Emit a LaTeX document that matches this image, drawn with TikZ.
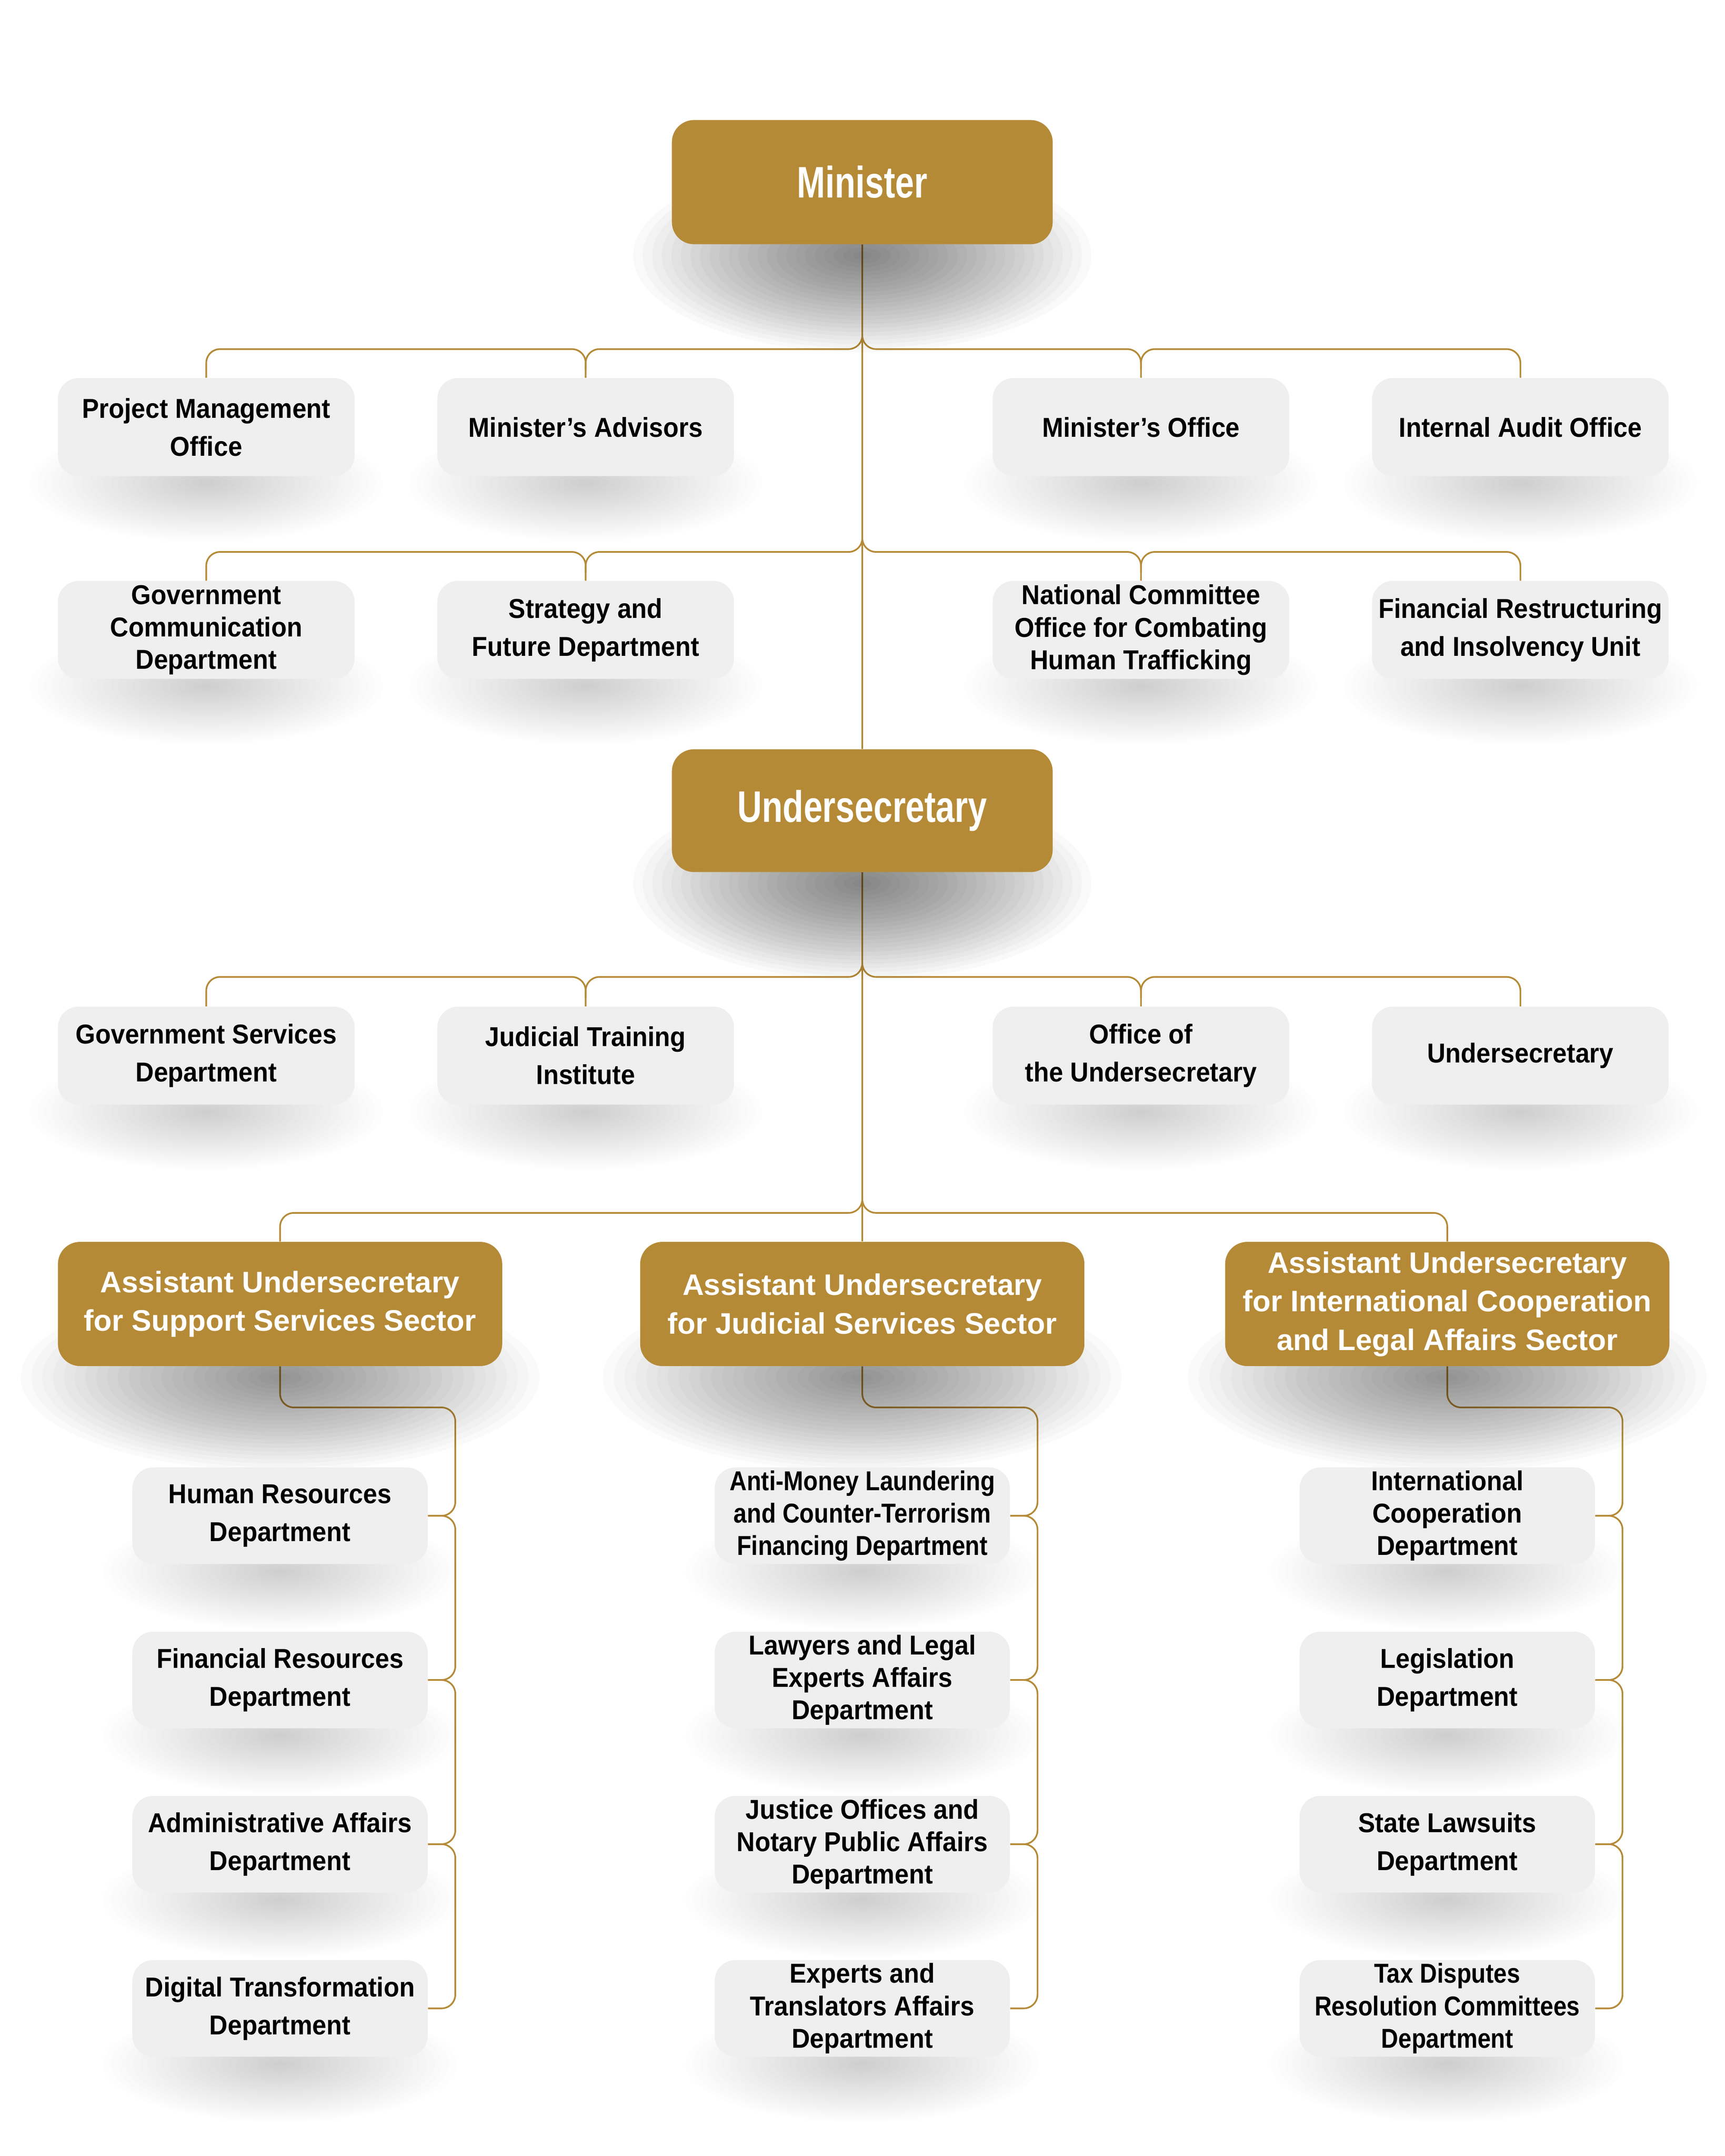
\documentclass[tikz,border=0pt]{standalone}
\usepackage{fontspec}
\setmainfont{Liberation Sans}
\newfontfamily\boxfont[FakeStretch=0.93]{Liberation Sans}
\newfontfamily\narrowfont[FakeStretch=0.87]{Liberation Sans}
\newfontfamily\goldfont[FakeStretch=0.77]{Liberation Sans}
\newfontfamily\secfont{Liberation Sans}
\usetikzlibrary{calc}
\definecolor{gold}{HTML}{B58A37}
\definecolor{boxgray}{HTML}{EFEFEF}
\pgfdeclarelayer{bg}
\pgfdeclarelayer{lines}
\pgfdeclarelayer{shadows}
\pgfsetlayers{bg,lines,shadows,main}
% soft shadow: stacked translucent ellipses centred just below the box
\newcommand\dropsh[5]{%
  \foreach \i in {1,...,24}{%
    \fill[black,opacity=#4] ($(#1.south)+(0,#5)$) ellipse [x radius={#2*\i/24}, y radius={#3*\i/24}];
  }}
\tikzset{
  gbox/.style={fill=gold, rounded corners=16pt, text=white, align=center, inner sep=0pt},
  topgold/.style={gbox, minimum width=276pt, minimum height=90pt, font=\goldfont\bfseries\fontsize{32}{36}\selectfont},
  secbox/.style={gbox, minimum width=322pt, minimum height=90pt, font=\secfont\bfseries\fontsize{21.5}{28}\selectfont},
  lbox/.style={fill=boxgray, rounded corners=15pt, text=black, align=center, inner sep=0pt, minimum width=215pt, minimum height=71pt, font=\boxfont\bfseries\fontsize{19.8}{27.5}\selectfont},
  sbox/.style={lbox, minimum width=214pt, minimum height=70pt},
  three/.style={font=\boxfont\bfseries\fontsize{19.8}{23.5}\selectfont},
  threen/.style={font=\narrowfont\bfseries\fontsize{19.8}{23.5}\selectfont},
  conn/.style={draw=gold, line width=1.2pt, rounded corners=10pt}
}
\begin{document}
\begin{tikzpicture}[x=1pt, y=-1pt]
\useasboundingbox (0,0) rectangle (1250,1562.5);
\begin{pgfonlayer}{bg}
\fill[white] (0,0) rectangle (1250,1562.5);
\end{pgfonlayer}

% gold nodes
\node[topgold] (min) at (625,132) {Minister};
\node[topgold, minimum height=89pt] (und) at (625,587.5) {Undersecretary};

% row 1
\node[lbox] (pmo) at (149.5,309.5) {Project Management\\Office};
\node[lbox] (adv) at (424.5,309.5) {Minister’s Advisors};
\node[lbox] (mo)  at (827,309.5) {Minister’s Office};
\node[lbox] (iao) at (1102,309.5) {Internal Audit Office};
% row 2
\node[lbox, three] (gcd) at (149.5,456.5) {Government\\Communication\\Department};
\node[lbox] (sfd) at (424.5,456.5) {Strategy and\\Future Department};
\node[lbox, three] (nch) at (827,456.5) {National Committee\\Office for Combating\\Human Trafficking};
\node[lbox] (fru) at (1102,456.5) {Financial Restructuring\\and Insolvency Unit};
% row 3
\node[lbox] (gsd) at (149.5,765) {Government Services\\Department};
\node[lbox] (jti) at (424.5,765) {Judicial Training\\Institute};
\node[lbox] (otu) at (827,765) {Office of\\the Undersecretary};
\node[lbox] (uds) at (1102,765) {Undersecretary};

% sectors
\node[secbox] (s1) at (203,945) {Assistant Undersecretary\\for Support Services Sector};
\node[secbox] (s2) at (625,945) {Assistant Undersecretary\\for Judicial Services Sector};
\node[secbox] (s3) at (1049,945) {Assistant Undersecretary\\for International Cooperation\\and Legal Affairs Sector};

% left column
\node[sbox] (a1) at (203,1098.5) {Human Resources\\Department};
\node[sbox] (b1) at (203,1217.5) {Financial Resources\\Department};
\node[sbox] (c1) at (203,1336.5) {Administrative Affairs\\Department};
\node[sbox] (d1) at (203,1455.5) {Digital Transformation\\Department};
% middle column
\node[sbox, threen] (a2) at (625,1098.5) {Anti-Money Laundering\\and Counter-Terrorism\\Financing Department};
\node[sbox, three] (b2) at (625,1217.5) {Lawyers and Legal\\Experts Affairs\\Department};
\node[sbox, three] (c2) at (625,1336.5) {Justice Offices and\\Notary Public Affairs\\Department};
\node[sbox, three] (d2) at (625,1455.5) {Experts and\\Translators Affairs\\Department};
% right column
\node[sbox, three] (a3) at (1049,1098.5) {International\\Cooperation\\Department};
\node[sbox] (b3) at (1049,1217.5) {Legislation\\Department};
\node[sbox] (c3) at (1049,1336.5) {State Lawsuits\\Department};
\node[sbox, threen] (d3) at (1049,1455.5) {Tax Disputes\\Resolution Committees\\Department};

% connectors
\begin{pgfonlayer}{lines}
\coordinate (j1) at (625,253);
\coordinate (j2) at (625,400);
\coordinate (j3) at (625,708);
\coordinate (j4) at (625,879);
\draw[conn] (min.south) -- (und.north);
\draw[conn] (und.south) -- (s2.north);
\foreach \j/\l/\ll/\r/\rr in {j1/adv/pmo/mo/iao, j2/sfd/gcd/nch/fru, j3/jti/gsd/otu/uds}{
  \draw[conn] ($(\j)+(0,-15)$) -- (\j) -- (\j -| \l.north) -- (\l.north);
  \draw[conn] ($(\j -| \l.north)+(0,15)$) -- (\j -| \l.north) -- (\j -| \ll.north) -- (\ll.north);
  \draw[conn] ($(\j)+(0,-15)$) -- (\j) -- (\j -| \r.north) -- (\r.north);
  \draw[conn] ($(\j -| \r.north)+(0,15)$) -- (\j -| \r.north) -- (\j -| \rr.north) -- (\rr.north);
}
\draw[conn] ($(j4)+(0,-15)$) -- (j4) -- (j4 -| s1.north) -- (s1.north);
\draw[conn] ($(j4)+(0,-15)$) -- (j4) -- (j4 -| s3.north) -- (s3.north);
\coordinate (h1) at (330,1020);
\coordinate (h2) at (752,1020);
\coordinate (h3) at (1176,1020);
\foreach \k in {1,2,3}{
  \draw[conn] (s\k.south) -- (s\k.south |- h\k) -- (h\k) -- (h\k |- a\k.east) -- (a\k.east);
  \draw[conn] (a\k.east) -- (h\k |- a\k.east) -- (h\k |- b\k.east) -- (b\k.east);
  \draw[conn] (b\k.east) -- (h\k |- b\k.east) -- (h\k |- c\k.east) -- (c\k.east);
  \draw[conn] (c\k.east) -- (h\k |- c\k.east) -- (h\k |- d\k.east) -- (d\k.east);
}
\end{pgfonlayer}

% shadows
\begin{pgfonlayer}{shadows}
\dropsh{min}{166pt}{70pt}{0.022}{8}
\dropsh{und}{166pt}{70pt}{0.022}{8}
\foreach \n in {s1,s2,s3}{\dropsh{\n}{188pt}{68pt}{0.021}{8}}
\foreach \n in {pmo,adv,mo,iao,gcd,sfd,nch,fru,gsd,jti,otu,uds,a1,b1,c1,d1,a2,b2,c2,d2,a3,b3,c3,d3}{\dropsh{\n}{128pt}{42pt}{0.008}{5}}
\end{pgfonlayer}
\end{tikzpicture}
\end{document}
